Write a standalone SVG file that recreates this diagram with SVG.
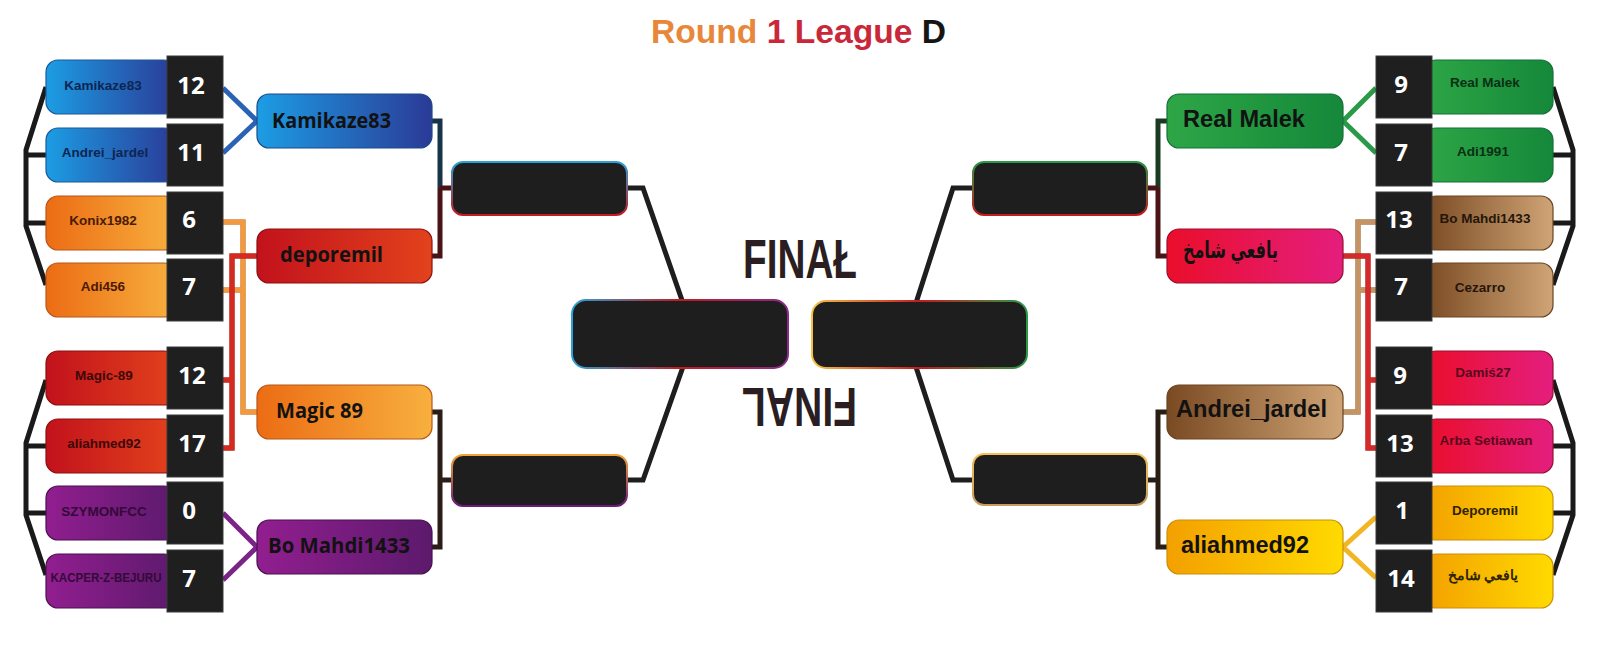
<svg xmlns="http://www.w3.org/2000/svg" width="1600" height="668" viewBox="0 0 1600 668">
<defs>
<linearGradient id="gBlue" x1="0" y1="0" x2="1" y2="0"><stop offset="0" stop-color="#1c9de4"/><stop offset="1" stop-color="#2b3a96"/></linearGradient>
<linearGradient id="gOrange" x1="0" y1="0" x2="1" y2="0"><stop offset="0" stop-color="#ec6c14"/><stop offset="1" stop-color="#f7b03e"/></linearGradient>
<linearGradient id="gRed" x1="0" y1="0" x2="1" y2="0"><stop offset="0" stop-color="#c2121c"/><stop offset="1" stop-color="#e2421c"/></linearGradient>
<linearGradient id="gPurple" x1="0" y1="0" x2="1" y2="0"><stop offset="0" stop-color="#921e90"/><stop offset="1" stop-color="#5c1a6c"/></linearGradient>
<linearGradient id="gGreen" x1="0" y1="0" x2="1" y2="0"><stop offset="0" stop-color="#2ea646"/><stop offset="1" stop-color="#15883a"/></linearGradient>
<linearGradient id="gPink" x1="0" y1="0" x2="1" y2="0"><stop offset="0" stop-color="#ea0e2a"/><stop offset="1" stop-color="#e41e7e"/></linearGradient>
<linearGradient id="gTan" x1="0" y1="0" x2="1" y2="0"><stop offset="0" stop-color="#7a4a22"/><stop offset="1" stop-color="#cfa476"/></linearGradient>
<linearGradient id="gYellow" x1="0" y1="0" x2="1" y2="0"><stop offset="0" stop-color="#f3a000"/><stop offset="1" stop-color="#ffda00"/></linearGradient>
<linearGradient id="sTL" x1="0" y1="0" x2="0" y2="1"><stop offset="0" stop-color="#2aa2d8"/><stop offset="1" stop-color="#c41a22"/></linearGradient>
<linearGradient id="sBL" x1="0" y1="0" x2="0" y2="1"><stop offset="0" stop-color="#f2a434"/><stop offset="1" stop-color="#6c1a7c"/></linearGradient>
<linearGradient id="sTR" x1="0" y1="0" x2="0" y2="1"><stop offset="0" stop-color="#2a9a44"/><stop offset="1" stop-color="#c41a22"/></linearGradient>
<linearGradient id="sBR" x1="0" y1="0" x2="0" y2="1"><stop offset="0" stop-color="#f2c258"/><stop offset="1" stop-color="#c89a60"/></linearGradient>
<linearGradient id="sFL" x1="0" y1="0" x2="1" y2="0"><stop offset="0" stop-color="#2aa2d8"/><stop offset="0.5" stop-color="#c41a22"/><stop offset="1" stop-color="#8a2a8c"/></linearGradient>
<linearGradient id="sFR" x1="0" y1="0" x2="1" y2="0"><stop offset="0" stop-color="#f5c040"/><stop offset="0.5" stop-color="#c41a22"/><stop offset="1" stop-color="#2a9a44"/></linearGradient>
<style>
.nm{rx:12px;ry:12px;stroke-width:1.2}
.sc{fill:#1f1f1f;stroke:#3a3a3a;stroke-width:1}
.scT{font-family:"Open Sans","Liberation Sans",sans-serif;font-weight:700;font-size:24px;fill:#ffffff;text-anchor:middle}
.sm{font-family:"Liberation Sans",Arial,sans-serif;font-weight:700;font-size:13.5px;text-anchor:middle}
.r2L{font-family:"Open Sans","Liberation Sans",sans-serif;font-weight:700;font-size:20.5px;fill:#121212}
.r2R{font-family:"Liberation Sans",Arial,"DejaVu Sans",sans-serif;font-weight:700;font-size:23.5px;fill:#121212}
.blk{fill:#1e1e1e;stroke-width:2}
.ln{fill:none;stroke-width:5;stroke-linejoin:miter;stroke-linecap:butt}
.fin{font-family:"Liberation Sans",Arial,sans-serif;font-weight:700;font-size:56px;fill:#2b1e22}
</style>
</defs>
<rect width="1600" height="668" fill="#ffffff"/>

<text x="651" y="43" font-family="Liberation Sans, Arial, sans-serif" font-weight="700" font-size="33.5" textLength="295" lengthAdjust="spacingAndGlyphs"><tspan fill="#e8873a">Round </tspan><tspan fill="#c8283a">1 League </tspan><tspan fill="#151515">D</tspan></text>

<g id="connectors">
<!-- outer brackets -->
<path class="ln" stroke="#1a1a1a" d="M46,87 L26,150 L26,226 L46,285 M26,155 H46 M26,223 H46"/>
<path class="ln" stroke="#1a1a1a" d="M46,380 L26,443 L26,515 L46,575 M26,446 H46 M26,513 H46"/>
<path class="ln" stroke="#1a1a1a" d="M1553,87 L1573,150 L1573,226 L1553,285 M1573,155 H1553 M1573,223 H1553"/>
<path class="ln" stroke="#1a1a1a" d="M1553,380 L1573,443 L1573,515 L1553,575 M1573,446 H1553 M1573,513 H1553"/>
<!-- round 1 to round 2 -->
<path class="ln" stroke="#2a62b6" stroke-width="6" d="M223,88 L257,121 L223,153"/>
<path class="ln" stroke="#7a2488" stroke-width="6" d="M223,513 L257,547 L223,580"/>
<path class="ln" stroke="#2a9a48" stroke-width="6" d="M1376,88 L1343,121 L1376,153"/>
<path class="ln" stroke="#f2b624" stroke-width="6" d="M1376,517 L1343,547 L1376,578"/>
<path class="ln" stroke="#b4561a" stroke-width="6" d="M223,222 H243 V412 H257 M223,290 H243"/>
<path class="ln" stroke="#f29a40" stroke-width="2.5" d="M223,222 H243 V412 H257 M223,290 H243"/>
<path class="ln" stroke="#8a1010" stroke-width="6" d="M257,256 H232 V448 H223 M223,380 H232"/>
<path class="ln" stroke="#d42a20" stroke-width="2.5" d="M257,256 H232 V448 H223 M223,380 H232"/>
<path class="ln" stroke="#7a5030" stroke-width="6" d="M1343,412 H1358 V222 H1376 M1358,290 H1376"/>
<path class="ln" stroke="#c49464" stroke-width="2.5" d="M1343,412 H1358 V222 H1376 M1358,290 H1376"/>
<path class="ln" stroke="#8a1010" stroke-width="6" d="M1343,256 H1368 V448 H1376 M1368,380 H1376"/>
<path class="ln" stroke="#d42a2a" stroke-width="2.5" d="M1343,256 H1368 V448 H1376 M1368,380 H1376"/>
<!-- round 2 to semis -->
<path class="ln" stroke="#173449" d="M432,121 H440 V188"/>
<path class="ln" stroke="#4a1416" d="M440,188 V256 H432 M440,188 H452"/>
<path class="ln" stroke="#2a1c16" d="M432,412 H440 V547 H432 M440,480 H452"/>
<path class="ln" stroke="#1a3a22" d="M1167,121 H1158 V188"/>
<path class="ln" stroke="#4a1416" d="M1158,188 V256 H1167 M1158,188 H1147"/>
<path class="ln" stroke="#2a1e14" d="M1167,412 H1158 V547 H1167 M1158,480 H1147"/>
<!-- semis to final -->
<path class="ln" stroke="#1e1e1e" d="M627,188 H643 L684,306 M627,480 H643 L684,364"/>
<path class="ln" stroke="#1e1e1e" d="M973,188 H953 L915,306 M973,480 H953 L915,364"/>
</g>

<!-- left round 1 -->
<g id="L1"><rect class="nm" x="46" y="60" width="130" height="54" fill="url(#gBlue)" stroke="#1a5a9a"/><rect class="sc" x="167" y="56" width="56" height="62"/><text class="sm" x="103" y="90" fill="#0d2552">Kamikaze83</text><text class="scT" x="191" y="94">12</text></g>
<g id="L2"><rect class="nm" x="46" y="128" width="130" height="54" fill="url(#gBlue)" stroke="#1a5a9a"/><rect class="sc" x="167" y="124" width="56" height="62"/><text class="sm" x="105" y="157" fill="#0d2552">Andrei_jardel</text><text class="scT" x="191" y="161">11</text></g>
<g id="L3"><rect class="nm" x="46" y="196" width="130" height="54" fill="url(#gOrange)" stroke="#b8561a"/><rect class="sc" x="167" y="192" width="56" height="62"/><text class="sm" x="103" y="225" fill="#4a1a06">Konix1982</text><text class="scT" x="189" y="228">6</text></g>
<g id="L4"><rect class="nm" x="46" y="263" width="130" height="54" fill="url(#gOrange)" stroke="#b8561a"/><rect class="sc" x="167" y="259" width="56" height="62"/><text class="sm" x="103" y="291" fill="#4a1a06">Adi456</text><text class="scT" x="189" y="295">7</text></g>
<g id="L5"><rect class="nm" x="46" y="351" width="130" height="54" fill="url(#gRed)" stroke="#8a1010"/><rect class="sc" x="167" y="347" width="56" height="62"/><text class="sm" x="104" y="380" fill="#3e0808">Magic-89</text><text class="scT" x="192" y="384">12</text></g>
<g id="L6"><rect class="nm" x="46" y="419" width="130" height="54" fill="url(#gRed)" stroke="#8a1010"/><rect class="sc" x="167" y="415" width="56" height="62"/><text class="sm" x="104" y="448" fill="#3e0808">aliahmed92</text><text class="scT" x="192" y="452">17</text></g>
<g id="L7"><rect class="nm" x="46" y="486" width="130" height="54" fill="url(#gPurple)" stroke="#4a1050"/><rect class="sc" x="167" y="482" width="56" height="62"/><text class="sm" x="104" y="516" fill="#320a36">SZYMONFCC</text><text class="scT" x="189" y="519">0</text></g>
<g id="L8"><rect class="nm" x="46" y="554" width="130" height="54" fill="url(#gPurple)" stroke="#4a1050"/><rect class="sc" x="167" y="550" width="56" height="62"/><text class="sm" x="106" y="582" fill="#320a36" font-size="11.5" textLength="111" lengthAdjust="spacingAndGlyphs">KACPER-Z-BEJURU</text><text class="scT" x="189" y="587">7</text></g>

<!-- right round 1 -->
<g id="R1"><rect class="nm" x="1424" y="60" width="129" height="54" fill="url(#gGreen)" stroke="#15703a"/><rect class="sc" x="1376" y="56" width="56" height="62"/><text class="sm" x="1485" y="87" fill="#0a3014">Real Malek</text><text class="scT" x="1401" y="93">9</text></g>
<g id="R2"><rect class="nm" x="1424" y="128" width="129" height="54" fill="url(#gGreen)" stroke="#15703a"/><rect class="sc" x="1376" y="124" width="56" height="62"/><text class="sm" x="1483" y="156" fill="#0a3014">Adi1991</text><text class="scT" x="1401" y="161">7</text></g>
<g id="R3"><rect class="nm" x="1424" y="196" width="129" height="54" fill="url(#gTan)" stroke="#6a4420"/><rect class="sc" x="1376" y="192" width="56" height="62"/><text class="sm" x="1485" y="223" fill="#24160a">Bo Mahdi1433</text><text class="scT" x="1399" y="228">13</text></g>
<g id="R4"><rect class="nm" x="1424" y="263" width="129" height="54" fill="url(#gTan)" stroke="#6a4420"/><rect class="sc" x="1376" y="259" width="56" height="62"/><text class="sm" x="1480" y="292" fill="#24160a">Cezarro</text><text class="scT" x="1401" y="295">7</text></g>
<g id="R5"><rect class="nm" x="1424" y="351" width="129" height="54" fill="url(#gPink)" stroke="#9a1030"/><rect class="sc" x="1376" y="347" width="56" height="62"/><text class="sm" x="1483" y="377" fill="#5a0a1c">Damiś27</text><text class="scT" x="1400" y="384">9</text></g>
<g id="R6"><rect class="nm" x="1424" y="419" width="129" height="54" fill="url(#gPink)" stroke="#9a1030"/><rect class="sc" x="1376" y="415" width="56" height="62"/><text class="sm" x="1486" y="445" fill="#5a0a1c">Arba Setiawan</text><text class="scT" x="1400" y="452">13</text></g>
<g id="R7"><rect class="nm" x="1424" y="486" width="129" height="54" fill="url(#gYellow)" stroke="#c8900a"/><rect class="sc" x="1376" y="482" width="56" height="62"/><text class="sm" x="1485" y="515" fill="#2e2200">Deporemil</text><text class="scT" x="1402" y="519">1</text></g>
<g id="R8"><rect class="nm" x="1424" y="554" width="129" height="54" fill="url(#gYellow)" stroke="#c8900a"/><rect class="sc" x="1376" y="550" width="56" height="62"/><text class="sm" x="1483" y="580" fill="#2e2200" font-family="DejaVu Sans, sans-serif" font-size="12">يافعي شامخ</text><text class="scT" x="1401" y="587">14</text></g>

<!-- round 2 -->
<g id="QL1"><rect class="nm" x="257" y="94" width="175" height="54" fill="url(#gBlue)" stroke="#1a4a8a"/><text class="r2L" x="272" y="128" textLength="119" lengthAdjust="spacingAndGlyphs" fill="#0a1838">Kamikaze83</text></g>
<g id="QL2"><rect class="nm" x="257" y="229" width="175" height="54" fill="url(#gRed)" stroke="#8a1010"/><text class="r2L" x="280" y="262" textLength="103" lengthAdjust="spacingAndGlyphs" fill="#240606">deporemil</text></g>
<g id="QL3"><rect class="nm" x="257" y="385" width="175" height="54" fill="url(#gOrange)" stroke="#b8561a"/><text class="r2L" x="276" y="418" textLength="87" lengthAdjust="spacingAndGlyphs" fill="#1e1006">Magic 89</text></g>
<g id="QL4"><rect class="nm" x="257" y="520" width="175" height="54" fill="url(#gPurple)" stroke="#4a1050"/><text class="r2L" x="268" y="553" textLength="142" lengthAdjust="spacingAndGlyphs" fill="#1a0a1c">Bo Mahdi1433</text></g>
<g id="QR1"><rect class="nm" x="1167" y="94" width="176" height="54" fill="url(#gGreen)" stroke="#15703a"/><text class="r2R" x="1183" y="127" textLength="122" lengthAdjust="spacingAndGlyphs">Real Malek</text></g>
<g id="QR2"><rect class="nm" x="1167" y="229" width="176" height="54" fill="url(#gPink)" stroke="#9a1030"/><text class="r2R" x="1183" y="258" font-family="DejaVu Sans, sans-serif" font-size="22" textLength="95" lengthAdjust="spacingAndGlyphs">يافعي شامخ</text></g>
<g id="QR3"><rect class="nm" x="1167" y="385" width="176" height="54" fill="url(#gTan)" stroke="#6a4420"/><text class="r2R" x="1176" y="417" textLength="151" lengthAdjust="spacingAndGlyphs">Andrei_jardel</text></g>
<g id="QR4"><rect class="nm" x="1167" y="520" width="176" height="54" fill="url(#gYellow)" stroke="#c8900a"/><text class="r2R" x="1181" y="553" textLength="128" lengthAdjust="spacingAndGlyphs">aliahmed92</text></g>

<!-- semis -->
<g id="SL1"><rect class="blk" x="452" y="162" width="175" height="53" rx="11" stroke="url(#sTL)"/></g>
<g id="SL2"><rect class="blk" x="452" y="455" width="175" height="51" rx="11" stroke="url(#sBL)"/></g>
<g id="SR1"><rect class="blk" x="973" y="162" width="174" height="53" rx="11" stroke="url(#sTR)"/></g>
<g id="SR2"><rect class="blk" x="973" y="454" width="174" height="51" rx="11" stroke="url(#sBR)"/></g>

<!-- final -->
<g id="FL"><rect class="blk" x="572" y="300" width="216" height="68" rx="14" stroke="url(#sFL)"/></g>
<g id="FR"><rect class="blk" x="812" y="301" width="215" height="67" rx="14" stroke="url(#sFR)"/></g>
<g id="finalLabels">
<text class="fin" x="743" y="278" textLength="114" lengthAdjust="spacingAndGlyphs">FINAŁ</text>
<text class="fin" x="742" y="428" textLength="115" lengthAdjust="spacingAndGlyphs" transform="rotate(180 799.5 408)">FINAL</text>
</g>
</svg>
